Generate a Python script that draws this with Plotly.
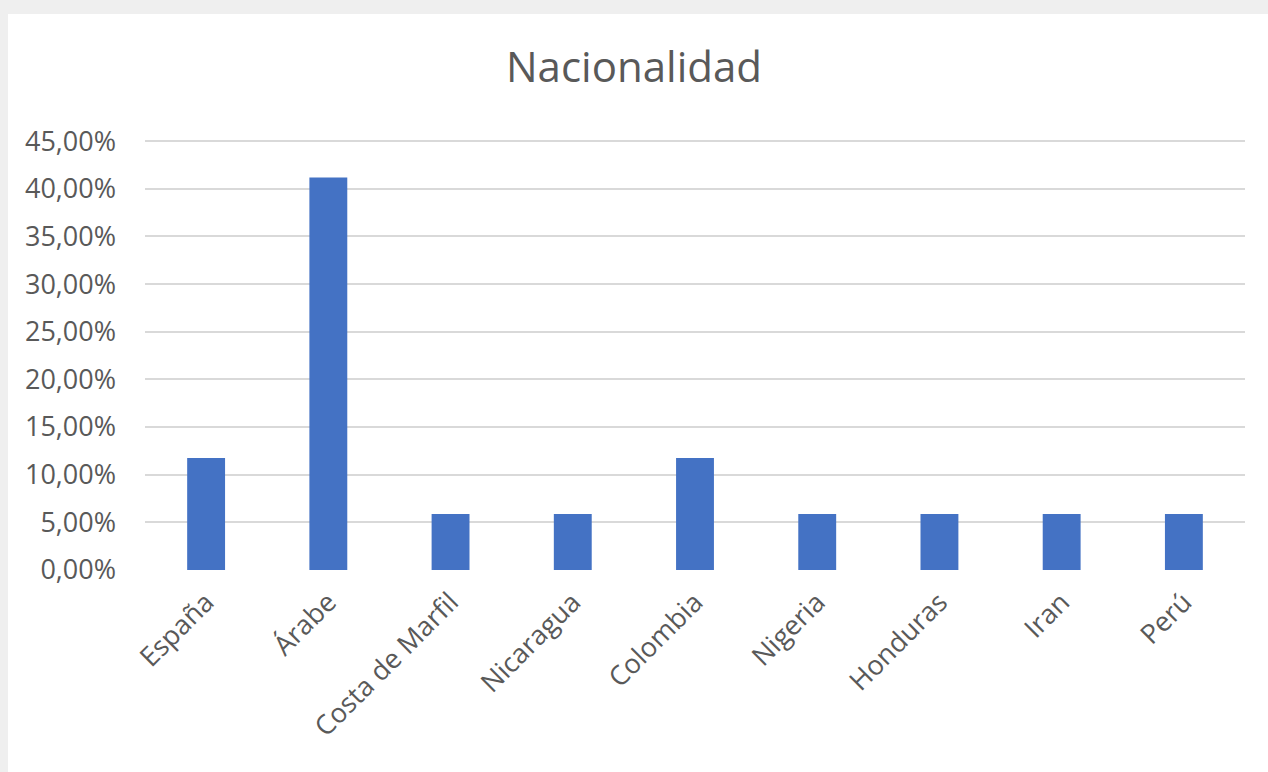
import plotly.graph_objects as go

# Nacionalidad share per country
paises = ['España', 'Árabe', 'Costa de Marfil', 'Nicaragua', 'Colombia',
          'Nigeria', 'Honduras', 'Iran', 'Perú']
porcentaje = [0.1176, 0.4118, 0.0588, 0.0588, 0.1176,
              0.0588, 0.0588, 0.0588, 0.0588]

W, H = 1268, 772
ml, mr, mt, mb = 145, 23, 139, 202
pw, ph = W - ml - mr, H - mt - mb

text_col = '#595959'
font_fam = 'Open Sans, Noto Sans, sans-serif'

fig = go.Figure(go.Bar(x=paises, y=porcentaje,
                       marker={'color': '#4472C4', 'line': {'width': 0}},
                       width=0.31, showlegend=False))

# white card on light gray page (gray strip left and top)
fig.add_shape(type='rect', xref='paper', yref='paper', layer='below',
              x0=(8 - ml) / pw, x1=(W + 10 - ml) / pw,
              y0=-(mb + 10) / ph, y1=(mt - 14) / ph + 1,
              fillcolor='white', line={'width': 0})

fig.update_layout(width=W, height=H,
                  margin={'l': ml, 'r': mr, 't': mt, 'b': mb},
                  paper_bgcolor='#efefef', plot_bgcolor='rgba(0,0,0,0)',
                  separators=',.',
                  font={'family': font_fam, 'color': text_col, 'size': 27},
                  title={'text': 'Nacionalidad', 'x': 0.5, 'xanchor': 'center',
                         'y': 1 - 67 / H, 'yanchor': 'middle',
                         'font': {'size': 42, 'color': text_col}},
                  bargap=0.69)
# a touch of headroom so the 45% gridline is not dropped at the edge
fig.update_yaxes(range=[0, 0.4522], tickvals=[round(i * 0.05, 2) for i in range(10)],
                 tickformat='.2%',
                 gridcolor='#d9d9d9', gridwidth=2, zeroline=False,
                 showline=False, ticklabelstandoff=28, fixedrange=True)
fig.update_xaxes(tickangle=-45, showgrid=False, showline=False,
                 ticklabelstandoff=10, fixedrange=True)

# drop the default body margin so the figure fills the window
fig.write_html('out.html', config={'displayModeBar': False},
               post_script="document.body.style.margin='0';")
